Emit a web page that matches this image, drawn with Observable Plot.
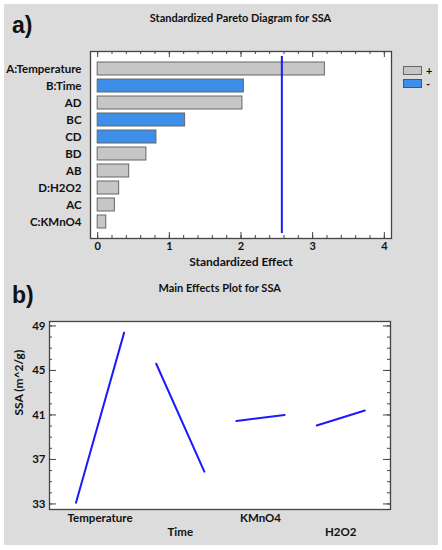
<!DOCTYPE html>
<html><head><meta charset="utf-8">
<script src="https://cdn.jsdelivr.net/npm/d3@7"></script>
<script src="https://cdn.jsdelivr.net/npm/@observablehq/plot@0.6"></script>
<style>
body{margin:0;background:#fff;}
#page{position:relative;width:442px;height:550px;overflow:hidden;font-family:Lato,"Open Sans",sans-serif;font-weight:bold;color:#111;}
#bg{position:absolute;left:4px;top:4px;width:434px;height:541px;background:#dcdcdc;}
.tag{position:absolute;left:12px;font:bold 23px "Liberation Sans",Arial,sans-serif;line-height:1;}
.title{position:absolute;font-size:11px;transform:translate(-50%,-50%);white-space:nowrap;}
.panel{position:absolute;left:0;}
.sw{position:absolute;left:403px;width:17px;height:7px;}
.sg{position:absolute;left:426px;font-size:11px;line-height:9px;height:9px;}
</style></head>
<body><div id="page"><div id="bg"></div>
<div class="panel" id="pa" style="top:0"></div>
<div class="panel" id="pb" style="top:270px"></div>
<div class="tag" style="top:14px">a)</div>
<div class="title" style="left:240.5px;top:17px">Standardized Pareto Diagram for SSA</div>
<div class="tag" style="top:284px">b)</div>
<div class="title" style="left:219.7px;top:287px">Main Effects Plot for SSA</div>
<div id="legend"></div>
</div>
<script>
// ---- Data: Pareto chart ----
const effects = ["A:Temperature","B:Time","AD","BC","CD","BD","AB","D:H2O2","AC","C:KMnO4"];
const effectValues = [3.17,2.04,2.02,1.22,0.82,0.68,0.44,0.30,0.24,0.12];
const effectSigns = ["+","-","+","-","-","+","+","+","+","+"];
const criticalValue = 2.57;
const paretoTicks = [0,1,2,3,4];
const signLabels = ["+","-"];
const signColors = ["#c6c6c6","#3d8ee8"];

// ---- Data: main effects ----
const factors = ["Temperature","Time","KMnO4","H2O2"];
const lowMeans = [33.1,45.6,40.45,40.05];
const highMeans = [48.4,35.9,41.0,41.4];
const ssaTicks = [33,37,41,45,49];

const W = 442, H = 280;
const baseStyle = {fontFamily:"Lato, 'Open Sans', sans-serif", fontSize:"11px", fontWeight:"bold", background:"transparent", overflow:"visible", color:"#111"};

// ---------- Panel a ----------
const pareto = effects.map((e,i)=>({effect:e, value:effectValues[i], sign:effectSigns[i]}));
const aMl=90, aMr=51, aMt=51, aMb=42;
const aFH = H - aMt - aMb;
const minorA = d3.range(0, 4.001, 0.2);
const pa = Plot.plot({
  width: W, height: H,
  marginLeft: aMl, marginRight: aMr, marginTop: aMt, marginBottom: aMb,
  style: baseStyle,
  x: {domain: [-0.1, 4.1]},
  y: {domain: effects, paddingInner: 0.25, paddingOuter: 0.42},
  color: {domain: signLabels, range: signColors},
  marks: [
    Plot.frame({fill: "white"}),
    Plot.barX(pareto, {x: "value", y: "effect", fill: "sign", stroke: "#666", strokeWidth: 1}),
    Plot.ruleX([criticalValue], {stroke: "#1a1aff", strokeWidth: 2, insetTop: 5, insetBottom: 5}),
    Plot.tickX(minorA, {x: d=>d, insetTop: aFH - 3, stroke: "#444"}),
    Plot.tickX(paretoTicks, {x: d=>d, insetTop: aFH - 6, stroke: "#444"}),
    Plot.tickX(minorA, {x: d=>d, insetBottom: aFH - 3, stroke: "#444"}),
    Plot.tickX(paretoTicks, {x: d=>d, insetBottom: aFH - 6, stroke: "#444"}),
    Plot.frame({stroke: "#444", strokeWidth: 1.3}),
    Plot.axisX(paretoTicks, {tickSize: 0, tickPadding: 4, label: null}),
    Plot.axisY({tickSize: 0, tickPadding: 9, label: null, fontSize: 11.5}),
    Plot.text(["Standardized Effect"], {frameAnchor: "bottom", dy: 27, fontSize: 12})
  ]
});
document.getElementById("pa").appendChild(pa);

// legend
const lg = document.getElementById("legend");
signLabels.forEach((s,i)=>{
  const top = 66 + i*13;
  const b = document.createElement("div");
  b.className = "sw";
  b.style.top = top + "px";
  b.style.background = signColors[i];
  b.style.border = "1px solid " + (i ? "#2a5a9a" : "#666");
  lg.appendChild(b);
  const t = document.createElement("div");
  t.className = "sg";
  t.style.top = top + "px";
  t.textContent = s;
  lg.appendChild(t);
});

// ---------- Panel b ----------
const bMl=49, bMr=52, bMt=51, bMb=41;
const bFH = H - bMt - bMb, bFW = W - bMl - bMr;
const rows = factors.flatMap((f,i)=>[
  {factor:f, x:i-0.3, y:lowMeans[i]},
  {factor:f, x:i+0.3, y:highMeans[i]}
]);
const factorRows = factors.map((f,i)=>({factor:f, i}));
const minorB = d3.range(33, 49.001, 1);
const pb = Plot.plot({
  width: W, height: H,
  marginLeft: bMl, marginRight: bMr, marginTop: bMt, marginBottom: bMb,
  style: baseStyle,
  x: {domain: [-0.63, 3.62], axis: null},
  y: {domain: [32.5, 49.4], axis: null},
  marks: [
    Plot.frame({fill: "white"}),
    Plot.line(rows, {x: "x", y: "y", z: "factor", stroke: "#1a1aff", strokeWidth: 2}),
    Plot.tickY(minorB, {y: d=>d, insetRight: bFW - 3, stroke: "#444"}),
    Plot.tickY(ssaTicks, {y: d=>d, insetRight: bFW - 7, stroke: "#444"}),
    Plot.tickY(minorB, {y: d=>d, insetLeft: bFW - 3, stroke: "#444"}),
    Plot.tickY(ssaTicks, {y: d=>d, insetLeft: bFW - 7, stroke: "#444"}),
    Plot.frame({stroke: "#444", strokeWidth: 1.3}),
    Plot.axisY(ssaTicks, {tickSize: 0, tickPadding: 4, label: null, fontSize: 11.5}),
    Plot.text(factorRows.filter(d=>d.i%2===0), {x: "i", text: "factor", frameAnchor: "bottom", dy: 12.7, fontSize: 11.5}),
    Plot.text(factorRows.filter(d=>d.i%2===1), {x: "i", text: "factor", frameAnchor: "bottom", dy: 26.7, fontSize: 11.5}),
    Plot.text(["SSA (m^2/g)"], {frameAnchor: "left", dx: -30, rotate: -90, fontSize: 12})
  ]
});
document.getElementById("pb").appendChild(pb);
</script>
</body></html>
